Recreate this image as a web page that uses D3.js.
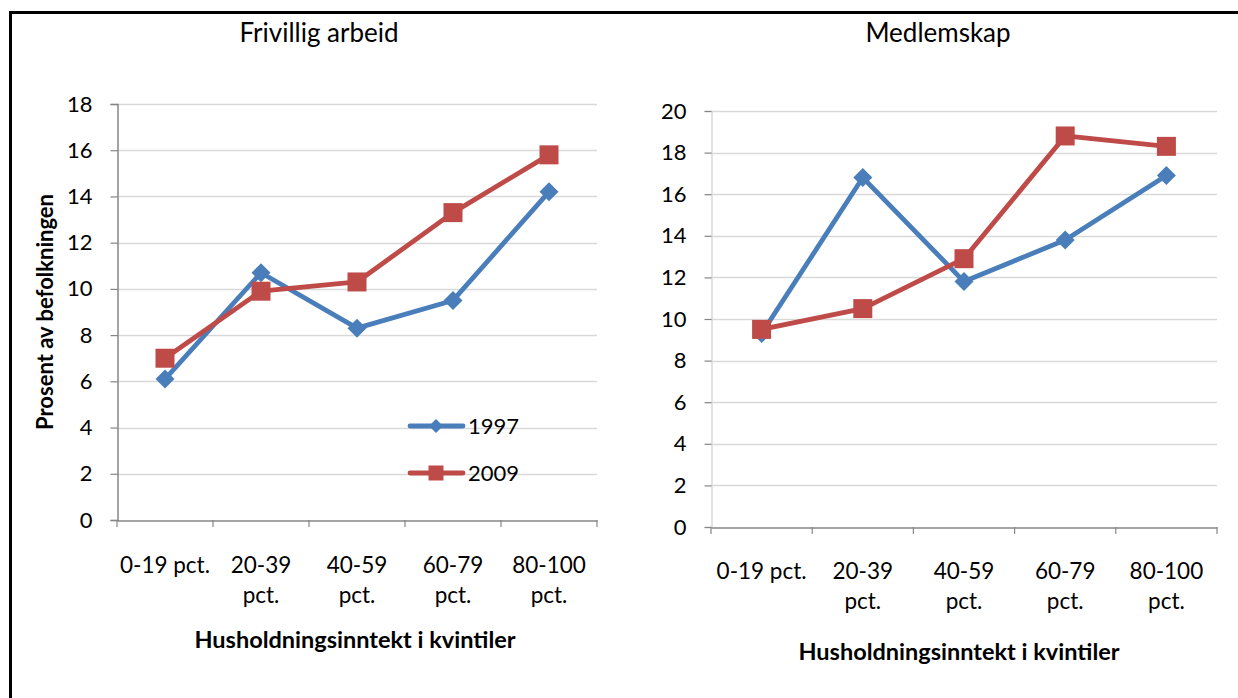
<!DOCTYPE html>
<html>
<head>
<meta charset="utf-8">
<script src="https://cdn.jsdelivr.net/npm/d3@7"></script>
<style>
  html, body { margin: 0; padding: 0; background: #fff; }
  svg { display: block; font-family: Lato, "Open Sans", sans-serif; }
</style>
</head>
<body>
<svg id="chart" width="1238" height="698"></svg>
<script>
// ---- Data ----
const categories = ["0-19 pct.", "20-39 pct.", "40-59 pct.", "60-79 pct.", "80-100 pct."];
const seriesNames = ["1997", "2009"];
const frivillig1997 = [6.1, 10.7, 8.3, 9.5, 14.2];
const frivillig2009 = [7.0, 9.9, 10.3, 13.3, 15.8];
const medlemskap1997 = [9.3, 16.8, 11.8, 13.8, 16.9];
const medlemskap2009 = [9.5, 10.5, 12.9, 18.8, 18.3];
const leftTicks = [0, 2, 4, 6, 8, 10, 12, 14, 16, 18];
const rightTicks = [0, 2, 4, 6, 8, 10, 12, 14, 16, 18, 20];
const chartTitles = ["Frivillig arbeid", "Medlemskap"];
const xTitle = "Husholdningsinntekt i kvintiler";
const yTitle = "Prosent av befolkningen";

const colors = { "1997": "#4A7EBB", "2009": "#BE4B48" };

const svg = d3.select("#chart");

// outer frame (left and top black lines)
svg.append("path")
  .attr("d", "M10.5,698 L10.5,12.5 L1238,12.5")
  .attr("fill", "none").attr("stroke", "#000").attr("stroke-width", 3);

function splitLabel(s) {
  if (s.startsWith("0-19")) return [s];
  const i = s.indexOf(" ");
  return [s.slice(0, i), s.slice(i + 1)];
}

// Excel-style diamond (rotated square) and square
function markerPath(shape, r) {
  if (shape === "diamond") return `M0,${-r}L${r},0L0,${r}L${-r},0Z`;
  return `M${-r},${-r}H${r}V${r}H${-r}Z`;
}

function drawPanel(cfg) {
  const g = svg.append("g");
  const x = d3.scaleBand().domain(categories).range([cfg.x0, cfg.x1]);
  const y = d3.scaleLinear().domain([0, cfg.ymax]).range([cfg.y0, cfg.y1]);

  // gridlines
  g.append("g").selectAll("line").data(cfg.ticks.filter(t => t > 0)).join("line")
    .attr("x1", cfg.x0).attr("x2", cfg.x1)
    .attr("y1", d => Math.round(y(d)) + 0.5).attr("y2", d => Math.round(y(d)) + 0.5)
    .attr("stroke", "#D9D9D9").attr("stroke-width", 1.5);

  // y axis
  const ya = g.append("g").attr("transform", `translate(${cfg.x0 + 0.5},0)`)
    .call(d3.axisLeft(y).tickValues(cfg.ticks).tickSize(7).tickPadding(18));
  ya.select(".domain").attr("stroke", cfg.yAxisColor).attr("stroke-width", 1.5);
  ya.selectAll(".tick line").attr("stroke", "#868686").attr("stroke-width", 1.2);
  ya.selectAll(".tick text").attr("font-size", 22).attr("fill", "#000")
    .attr("font-family", "Lato, sans-serif");

  // x axis
  const xa = g.append("g").attr("transform", `translate(0,${cfg.y0 + 0.5})`)
    .call(d3.axisBottom(x).tickSize(0).tickFormat(""));
  xa.select(".domain").attr("stroke", "#868686").attr("stroke-width", 1.5);
  // tick marks at band edges
  const edges = categories.map(c => x(c)).concat([cfg.x1]);
  g.append("g").selectAll("line").data(edges).join("line")
    .attr("x1", d => d).attr("x2", d => d)
    .attr("y1", cfg.y0).attr("y2", cfg.y0 + 7)
    .attr("stroke", "#868686").attr("stroke-width", 1.2);

  // category labels
  const lab = g.append("g");
  categories.forEach(c => {
    const lines = splitLabel(c);
    const cx = x(c) + x.bandwidth() / 2;
    const t = lab.append("text")
      .attr("x", cx).attr("y", cfg.y0 + cfg.labelDy)
      .attr("text-anchor", "middle").attr("font-size", 22.5).attr("fill", "#000");
    lines.forEach((l, i) => {
      t.append("tspan").attr("x", cx).attr("dy", i === 0 ? 0 : 30).text(l);
    });
  });

  // chart title
  g.append("text").attr("x", cfg.titleX).attr("y", 42)
    .attr("text-anchor", "middle").attr("font-size", 26).attr("fill", "#000")
    .text(cfg.title);

  // x title
  g.append("text").attr("x", cfg.xTitleX).attr("y", cfg.xTitleY)
    .attr("text-anchor", "middle").attr("font-size", 23.5).attr("font-weight", "bold")
    .attr("fill", "#000").text(xTitle);

  // series
  const series = [
    { name: "1997", values: cfg.v1997, shape: "diamond", r: 9.5 },
    { name: "2009", values: cfg.v2009, shape: "square", r: 9.5 }
  ];
  const line = d3.line().x((d, i) => x(categories[i]) + x.bandwidth() / 2).y(d => y(d));
  series.forEach(s => {
    g.append("path").datum(s.values).attr("d", line)
      .attr("fill", "none").attr("stroke", colors[s.name]).attr("stroke-width", 4.8)
      .attr("stroke-linejoin", "round").attr("stroke-linecap", "round");
    g.append("g").selectAll("path").data(s.values).join("path")
      .attr("transform", (d, i) => `translate(${x(categories[i]) + x.bandwidth() / 2},${y(d)})`)
      .attr("d", markerPath(s.shape, s.r))
      .attr("fill", colors[s.name]);
  });
  return { x, y };
}

drawPanel({
  x0: 117, x1: 597, y0: 520, y1: 104, ymax: 18, ticks: leftTicks,
  v1997: frivillig1997, v2009: frivillig2009, title: chartTitles[0], titleX: 319,
  xTitleX: 355, xTitleY: 648, labelDy: 53, yAxisColor: "#868686"
});
drawPanel({
  x0: 711, x1: 1217, y0: 527, y1: 111, ymax: 20, ticks: rightTicks,
  v1997: medlemskap1997, v2009: medlemskap2009, title: chartTitles[1], titleX: 938,
  xTitleX: 959, xTitleY: 660, labelDy: 52, yAxisColor: "#D9D9D9"
});

// y title
svg.append("text").attr("transform", "translate(53,312) rotate(-90)")
  .attr("text-anchor", "middle").attr("font-size", 22).attr("font-weight", "bold")
  .attr("fill", "#000").text(yTitle);

// legend
const legend = svg.append("g");
const legendItems = [
  { name: seriesNames[0], shape: "diamond", r: 7, y: 426 },
  { name: seriesNames[1], shape: "square", r: 7.5, y: 473 }
];
legendItems.forEach(it => {
  legend.append("line").attr("x1", 410).attr("x2", 463).attr("y1", it.y).attr("y2", it.y)
    .attr("stroke", colors[it.name]).attr("stroke-width", 4.8).attr("stroke-linecap", "round");
  legend.append("path").attr("transform", `translate(436,${it.y})`)
    .attr("d", markerPath(it.shape, it.r)).attr("fill", colors[it.name]);
  legend.append("text").attr("x", 468).attr("y", it.y + 8).attr("font-size", 22)
    .attr("fill", "#000").text(it.name);
});
</script>
</body>
</html>
